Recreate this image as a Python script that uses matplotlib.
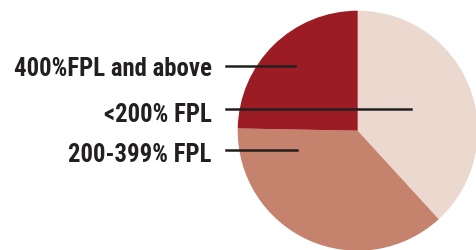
import matplotlib
matplotlib.use("Agg")
import matplotlib.pyplot as plt
from matplotlib.lines import Line2D

categories = ["<200% FPL", "200-399% FPL", "400%FPL and above"]
values = [38.2, 37.1, 24.7]
colors = ["#EBD8CF", "#C5836E", "#9B1C22"]

W, H = 477, 250
fig = plt.figure(figsize=(W / 100, H / 100), dpi=100)

cx, cy, r = 357.7, 130.7, 120.0
ax = fig.add_axes([(cx - r) / W, (H - cy - r) / H, 2 * r / W, 2 * r / H])
ax.pie(values, colors=colors, startangle=90, counterclock=False,
       wedgeprops=dict(linewidth=0))
ax.set_xlim(-1, 1)
ax.set_ylim(-1, 1)
ax.set_aspect("equal")
ax.axis("off")

fam = ["Roboto Condensed", "PT Sans Narrow", "Barlow Condensed", "DejaVu Sans"]
label_order = ["400%FPL and above", "<200% FPL", "200-399% FPL"]
baselines = [76, 122, 162]
line_y = [66, 109.3, 150]
line_end = [295, 411, 297]
for lab, by, ly, lx in zip(label_order, baselines, line_y, line_end):
    fig.text(212 / W, 1 - by / H, lab, ha="right", va="baseline",
             fontsize=17.8, fontweight="bold", color="#231F20", family=fam)
    fig.add_artist(Line2D([226 / W, lx / W], [1 - ly / H, 1 - ly / H],
                          transform=fig.transFigure, color="#231F20",
                          linewidth=1.8))

fig.savefig("out.png", dpi=100)
